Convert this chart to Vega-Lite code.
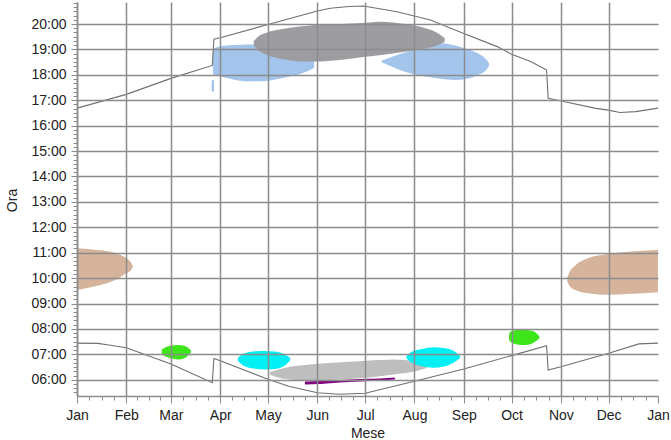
{
  "$schema": "https://vega.github.io/schema/vega-lite/v6.json",
  "width": 581,
  "height": 394,
  "autosize": {"type": "none"},
  "padding": {"left": 77, "top": 2, "right": 13, "bottom": 44},
  "background": "white",
  "config": {"view": {"stroke": null}, "font": "Liberation Sans"},
  "datasets": {
    "riflessi": [
      {"gruppo": "R1", "id": "R1a", "data": "2023-01-01", "sup": 11.17, "inf": 9.53},
      {"gruppo": "R1", "id": "R1a", "data": "2023-01-11", "sup": 11.13, "inf": 9.66},
      {"gruppo": "R1", "id": "R1a", "data": "2023-01-22", "sup": 11.04, "inf": 9.85},
      {"gruppo": "R1", "id": "R1a", "data": "2023-01-28", "sup": 10.92, "inf": 10.02},
      {"gruppo": "R1", "id": "R1a", "data": "2023-01-30", "sup": 10.86, "inf": 10.12},
      {"gruppo": "R1", "id": "R1a", "data": "2023-02-02", "sup": 10.74, "inf": 10.22},
      {"gruppo": "R1", "id": "R1a", "data": "2023-02-04", "sup": 10.6, "inf": 10.32},
      {"gruppo": "R1", "id": "R1a", "data": "2023-02-05", "sup": 10.47, "inf": 10.43},
      {"gruppo": "R1", "id": "R1b", "data": "2023-11-05", "sup": 10.02, "inf": 9.88},
      {"gruppo": "R1", "id": "R1b", "data": "2023-11-06T12:00:00Z", "sup": 10.25, "inf": 9.68},
      {"gruppo": "R1", "id": "R1b", "data": "2023-11-10", "sup": 10.5, "inf": 9.53},
      {"gruppo": "R1", "id": "R1b", "data": "2023-11-18", "sup": 10.78, "inf": 9.4},
      {"gruppo": "R1", "id": "R1b", "data": "2023-12-01", "sup": 10.95, "inf": 9.34},
      {"gruppo": "R1", "id": "R1b", "data": "2023-12-13", "sup": 11.04, "inf": 9.37},
      {"gruppo": "R1", "id": "R1b", "data": "2024-01-01", "sup": 11.11, "inf": 9.44},
      {"gruppo": "R2", "id": "R2a", "data": "2023-03-27T10:00:00Z", "sup": 19.04, "inf": 18.03},
      {"gruppo": "R2", "id": "R2a", "data": "2023-04-01", "sup": 19.12, "inf": 17.93},
      {"gruppo": "R2", "id": "R2a", "data": "2023-04-09", "sup": 19.17, "inf": 17.82},
      {"gruppo": "R2", "id": "R2a", "data": "2023-04-18", "sup": 19.19, "inf": 17.74},
      {"gruppo": "R2", "id": "R2a", "data": "2023-04-30", "sup": 19.19, "inf": 17.76},
      {"gruppo": "R2", "id": "R2a", "data": "2023-05-13", "sup": 19.13, "inf": 17.91},
      {"gruppo": "R2", "id": "R2a", "data": "2023-05-25", "sup": 18.9, "inf": 18.12},
      {"gruppo": "R2", "id": "R2a", "data": "2023-05-30", "sup": 18.56, "inf": 18.28},
      {"gruppo": "R2", "id": "R2c", "data": "2023-03-26T14:00:00Z", "sup": 17.78, "inf": 17.36},
      {"gruppo": "R2", "id": "R2c", "data": "2023-03-27T12:00:00Z", "sup": 17.8, "inf": 17.33},
      {"gruppo": "R2", "id": "R2c", "data": "2023-03-28T02:00:00Z", "sup": 17.78, "inf": 17.36},
      {"gruppo": "R2", "id": "R2b", "data": "2023-07-11T10:00:00Z", "sup": 18.56, "inf": 18.49},
      {"gruppo": "R2", "id": "R2b", "data": "2023-07-18", "sup": 18.71, "inf": 18.32},
      {"gruppo": "R2", "id": "R2b", "data": "2023-07-26", "sup": 18.88, "inf": 18.12},
      {"gruppo": "R2", "id": "R2b", "data": "2023-08-05T12:00:00Z", "sup": 19.06, "inf": 17.95},
      {"gruppo": "R2", "id": "R2b", "data": "2023-08-16", "sup": 19.25, "inf": 17.86},
      {"gruppo": "R2", "id": "R2b", "data": "2023-08-26T12:00:00Z", "sup": 19.15, "inf": 17.8},
      {"gruppo": "R2", "id": "R2b", "data": "2023-09-04", "sup": 19.0, "inf": 17.86},
      {"gruppo": "R2", "id": "R2b", "data": "2023-09-10", "sup": 18.84, "inf": 17.99},
      {"gruppo": "R2", "id": "R2b", "data": "2023-09-15T10:00:00Z", "sup": 18.58, "inf": 18.22},
      {"gruppo": "R2", "id": "R2b", "data": "2023-09-16T19:00:00Z", "sup": 18.46, "inf": 18.35},
      {"gruppo": "R3", "id": "R3", "data": "2023-04-22", "sup": 19.32, "inf": 19.16},
      {"gruppo": "R3", "id": "R3", "data": "2023-04-25", "sup": 19.52, "inf": 18.96},
      {"gruppo": "R3", "id": "R3", "data": "2023-04-30", "sup": 19.66, "inf": 18.79},
      {"gruppo": "R3", "id": "R3", "data": "2023-05-11", "sup": 19.81, "inf": 18.61},
      {"gruppo": "R3", "id": "R3", "data": "2023-05-21", "sup": 19.9, "inf": 18.52},
      {"gruppo": "R3", "id": "R3", "data": "2023-05-31", "sup": 19.96, "inf": 18.52},
      {"gruppo": "R3", "id": "R3", "data": "2023-06-15", "sup": 20.0, "inf": 18.58},
      {"gruppo": "R3", "id": "R3", "data": "2023-07-01", "sup": 20.05, "inf": 18.71},
      {"gruppo": "R3", "id": "R3", "data": "2023-07-11", "sup": 20.09, "inf": 18.78},
      {"gruppo": "R3", "id": "R3", "data": "2023-07-26", "sup": 20.0, "inf": 18.91},
      {"gruppo": "R3", "id": "R3", "data": "2023-08-08", "sup": 19.83, "inf": 19.04},
      {"gruppo": "R3", "id": "R3", "data": "2023-08-16", "sup": 19.63, "inf": 19.17},
      {"gruppo": "R3", "id": "R3", "data": "2023-08-20", "sup": 19.45, "inf": 19.3},
      {"gruppo": "R4", "id": "R4a", "data": "2023-04-12", "sup": 6.86, "inf": 6.75},
      {"gruppo": "R4", "id": "R4a", "data": "2023-04-16", "sup": 7.03, "inf": 6.54},
      {"gruppo": "R4", "id": "R4a", "data": "2023-04-22", "sup": 7.11, "inf": 6.44},
      {"gruppo": "R4", "id": "R4a", "data": "2023-04-29", "sup": 7.13, "inf": 6.4},
      {"gruppo": "R4", "id": "R4a", "data": "2023-05-05", "sup": 7.11, "inf": 6.42},
      {"gruppo": "R4", "id": "R4a", "data": "2023-05-11", "sup": 7.01, "inf": 6.54},
      {"gruppo": "R4", "id": "R4a", "data": "2023-05-15", "sup": 6.86, "inf": 6.77},
      {"gruppo": "R4", "id": "R4b", "data": "2023-07-27", "sup": 6.93, "inf": 6.84},
      {"gruppo": "R4", "id": "R4b", "data": "2023-07-30T12:00:00Z", "sup": 7.11, "inf": 6.66},
      {"gruppo": "R4", "id": "R4b", "data": "2023-08-05T17:00:00Z", "sup": 7.21, "inf": 6.54},
      {"gruppo": "R4", "id": "R4b", "data": "2023-08-12T14:00:00Z", "sup": 7.28, "inf": 6.47},
      {"gruppo": "R4", "id": "R4b", "data": "2023-08-19T14:00:00Z", "sup": 7.25, "inf": 6.52},
      {"gruppo": "R4", "id": "R4b", "data": "2023-08-25T19:00:00Z", "sup": 7.13, "inf": 6.68},
      {"gruppo": "R4", "id": "R4b", "data": "2023-08-29T14:00:00Z", "sup": 6.94, "inf": 6.85},
      {"gruppo": "R5", "id": "R5a", "data": "2023-02-23T05:00:00Z", "sup": 7.19, "inf": 7.01},
      {"gruppo": "R5", "id": "R5a", "data": "2023-02-25T22:00:00Z", "sup": 7.29, "inf": 6.9},
      {"gruppo": "R5", "id": "R5a", "data": "2023-03-01T17:00:00Z", "sup": 7.35, "inf": 6.84},
      {"gruppo": "R5", "id": "R5a", "data": "2023-03-05T12:00:00Z", "sup": 7.37, "inf": 6.8},
      {"gruppo": "R5", "id": "R5a", "data": "2023-03-09T22:00:00Z", "sup": 7.33, "inf": 6.86},
      {"gruppo": "R5", "id": "R5a", "data": "2023-03-13T14:00:00Z", "sup": 7.16, "inf": 7.06},
      {"gruppo": "R5", "id": "R5b", "data": "2023-09-29T10:00:00Z", "sup": 7.75, "inf": 7.6},
      {"gruppo": "R5", "id": "R5b", "data": "2023-09-30", "sup": 7.88, "inf": 7.5},
      {"gruppo": "R5", "id": "R5b", "data": "2023-10-04T10:00:00Z", "sup": 7.96, "inf": 7.39},
      {"gruppo": "R5", "id": "R5b", "data": "2023-10-09T10:00:00Z", "sup": 7.96, "inf": 7.37},
      {"gruppo": "R5", "id": "R5b", "data": "2023-10-14T12:00:00Z", "sup": 7.92, "inf": 7.45},
      {"gruppo": "R5", "id": "R5b", "data": "2023-10-18T10:00:00Z", "sup": 7.71, "inf": 7.62},
      {"gruppo": "R6", "id": "R6", "data": "2023-05-02T05:00:00Z", "sup": 6.3, "inf": 6.2},
      {"gruppo": "R6", "id": "R6", "data": "2023-05-06T12:00:00Z", "sup": 6.38, "inf": 6.1},
      {"gruppo": "R6", "id": "R6", "data": "2023-05-14T19:00:00Z", "sup": 6.51, "inf": 6.01},
      {"gruppo": "R6", "id": "R6", "data": "2023-05-27T10:00:00Z", "sup": 6.6, "inf": 5.95},
      {"gruppo": "R6", "id": "R6", "data": "2023-06-11", "sup": 6.67, "inf": 5.99},
      {"gruppo": "R6", "id": "R6", "data": "2023-07-02", "sup": 6.75, "inf": 6.08},
      {"gruppo": "R6", "id": "R6", "data": "2023-07-18T17:00:00Z", "sup": 6.8, "inf": 6.21},
      {"gruppo": "R6", "id": "R6", "data": "2023-08-02T10:00:00Z", "sup": 6.71, "inf": 6.34},
      {"gruppo": "R6", "id": "R6", "data": "2023-08-08T17:00:00Z", "sup": 6.56, "inf": 6.46},
      {"gruppo": "R7", "id": "R7", "data": "2023-05-24T05:00:00Z", "sup": 5.93, "inf": 5.81},
      {"gruppo": "R7", "id": "R7", "data": "2023-06-02T17:00:00Z", "sup": 5.95, "inf": 5.83},
      {"gruppo": "R7", "id": "R7", "data": "2023-06-15T05:00:00Z", "sup": 5.99, "inf": 5.89},
      {"gruppo": "R7", "id": "R7", "data": "2023-06-27T19:00:00Z", "sup": 6.03, "inf": 5.93},
      {"gruppo": "R7", "id": "R7", "data": "2023-07-10T07:00:00Z", "sup": 6.05, "inf": 5.97},
      {"gruppo": "R7", "id": "R7", "data": "2023-07-19T17:00:00Z", "sup": 6.09, "inf": 6.01}
    ],
    "sole": [
      {"curva": "tramonto", "data": "2023-01-01", "ora": 16.69},
      {"curva": "tramonto", "data": "2023-02-01", "ora": 17.23},
      {"curva": "tramonto", "data": "2023-03-01", "ora": 17.86},
      {"curva": "tramonto", "data": "2023-03-27", "ora": 18.37},
      {"curva": "tramonto", "data": "2023-03-28", "ora": 19.4},
      {"curva": "tramonto", "data": "2023-04-01", "ora": 19.46},
      {"curva": "tramonto", "data": "2023-05-01", "ora": 19.98},
      {"curva": "tramonto", "data": "2023-06-01", "ora": 20.51},
      {"curva": "tramonto", "data": "2023-06-09", "ora": 20.62},
      {"curva": "tramonto", "data": "2023-06-21", "ora": 20.69},
      {"curva": "tramonto", "data": "2023-06-30", "ora": 20.71},
      {"curva": "tramonto", "data": "2023-07-21", "ora": 20.48},
      {"curva": "tramonto", "data": "2023-08-11", "ora": 20.16},
      {"curva": "tramonto", "data": "2023-09-01", "ora": 19.63},
      {"curva": "tramonto", "data": "2023-09-22", "ora": 19.11},
      {"curva": "tramonto", "data": "2023-10-01", "ora": 18.81},
      {"curva": "tramonto", "data": "2023-10-13", "ora": 18.52},
      {"curva": "tramonto", "data": "2023-10-23", "ora": 18.19},
      {"curva": "tramonto", "data": "2023-10-24", "ora": 17.08},
      {"curva": "tramonto", "data": "2023-11-02", "ora": 16.96},
      {"curva": "tramonto", "data": "2023-11-23", "ora": 16.68},
      {"curva": "tramonto", "data": "2023-12-01", "ora": 16.61},
      {"curva": "tramonto", "data": "2023-12-08", "ora": 16.52},
      {"curva": "tramonto", "data": "2023-12-18", "ora": 16.55},
      {"curva": "tramonto", "data": "2024-01-01", "ora": 16.69},
      {"curva": "alba", "data": "2023-01-01", "ora": 7.44},
      {"curva": "alba", "data": "2023-01-14", "ora": 7.43},
      {"curva": "alba", "data": "2023-01-21", "ora": 7.37},
      {"curva": "alba", "data": "2023-02-01", "ora": 7.26},
      {"curva": "alba", "data": "2023-03-01", "ora": 6.62},
      {"curva": "alba", "data": "2023-03-27", "ora": 5.88},
      {"curva": "alba", "data": "2023-03-28", "ora": 6.84},
      {"curva": "alba", "data": "2023-04-01", "ora": 6.75},
      {"curva": "alba", "data": "2023-05-01", "ora": 6.02},
      {"curva": "alba", "data": "2023-05-14", "ora": 5.74},
      {"curva": "alba", "data": "2023-06-01", "ora": 5.49},
      {"curva": "alba", "data": "2023-06-15", "ora": 5.43},
      {"curva": "alba", "data": "2023-07-01", "ora": 5.47},
      {"curva": "alba", "data": "2023-08-01", "ora": 5.94},
      {"curva": "alba", "data": "2023-09-01", "ora": 6.42},
      {"curva": "alba", "data": "2023-10-01", "ora": 6.95},
      {"curva": "alba", "data": "2023-10-23", "ora": 7.34},
      {"curva": "alba", "data": "2023-10-24", "ora": 6.38},
      {"curva": "alba", "data": "2023-11-01", "ora": 6.51},
      {"curva": "alba", "data": "2023-12-01", "ora": 7.04},
      {"curva": "alba", "data": "2023-12-20", "ora": 7.41},
      {"curva": "alba", "data": "2024-01-01", "ora": 7.44}
    ]
  },
  "layer": [
    {
      "data": {"name": "riflessi"},
      "transform": [{"filter": {"field": "gruppo", "oneOf": ["R1", "R2", "R5"]}}],
      "mark": {"type": "area", "interpolate": "monotone", "opacity": 1, "clip": true},
      "encoding": {
        "x": {
          "field": "data", "type": "temporal",
          "scale": {"type": "utc", "nice": false, "domain": [{"year": 2023, "month": 1, "date": 1, "utc": true}, {"year": 2024, "month": 1, "date": 1, "utc": true}]},
          "axis": {
            "title": "Mese",
            "values": {"expr": "[utc(2023,0,1),utc(2023,1,1),utc(2023,2,1),utc(2023,3,1),utc(2023,4,1),utc(2023,5,1),utc(2023,6,1),utc(2023,7,1),utc(2023,8,1),utc(2023,9,1),utc(2023,10,1),utc(2023,11,1),utc(2024,0,1)]"},
            "labelExpr": "utcFormat(datum.value, '%b')",
            "labelFlush": false, "labelOverlap": false, "labelBound": false,
            "grid": true, "gridColor": "#8c8c8c", "gridWidth": 1.5,
            "gridOpacity": {"condition": {"test": "datum.value > utc(2023,11,15)", "value": 0}, "value": 1},
            "domainColor": "#8c8c8c", "domainWidth": 1.5,
            "tickColor": "#8c8c8c", "tickSize": 7, "tickWidth": 1,
            "labelPadding": 5, "labelFont": "Liberation Sans", "labelFontSize": 14, "labelColor": "#222222",
            "titleFont": "Liberation Sans", "titleFontSize": 14, "titleFontWeight": "normal", "titleColor": "#222222",
            "titleY": 41, "titleBaseline": "alphabetic",
            "zindex": 1
          }
        },
        "y": {
          "field": "sup", "type": "quantitative",
          "scale": {"domain": [5.36, 20.866], "nice": false, "zero": false},
          "axis": {
            "title": "Ora",
            "values": [6, 7, 8, 9, 10, 11, 12, 13, 14, 15, 16, 17, 18, 19, 20],
            "labelExpr": "(datum.value < 10 ? '0' : '') + datum.value + ':00'",
            "labelOverlap": false,
            "grid": true, "gridColor": "#8c8c8c", "gridWidth": 1.5,
            "domainColor": "#8c8c8c", "domainWidth": 1.5,
            "tickColor": "#8c8c8c", "tickSize": 6, "tickWidth": 1,
            "labelPadding": 5, "labelFont": "Liberation Sans", "labelFontSize": 14, "labelColor": "#222222",
            "titleFont": "Liberation Sans", "titleFontSize": 14, "titleFontWeight": "normal", "titleColor": "#222222",
            "titleX": -61, "titleY": 198, "titleBaseline": "alphabetic", "titleAlign": "center", "titleAngle": 270,
            "zindex": 1
          }
        },
        "y2": {"field": "inf"},
        "color": {
          "field": "gruppo", "type": "nominal", "legend": null,
          "scale": {"domain": ["R1", "R2", "R3", "R4", "R5", "R6", "R7"], "range": ["#D6B39B", "#A3C5EC", "#9D9CA1", "#00F0F5", "#3CE61B", "#BEBEBE", "#80007F"]}
        },
        "detail": {"field": "id"}
      }
    },
    {
      "data": {"name": "riflessi"},
      "transform": [{"filter": {"field": "gruppo", "oneOf": ["R3", "R6"]}}],
      "mark": {"type": "area", "interpolate": "monotone", "opacity": 1, "clip": true},
      "encoding": {
        "x": {"field": "data", "type": "temporal", "axis": null},
        "y": {"field": "sup", "type": "quantitative", "axis": null},
        "y2": {"field": "inf"},
        "color": {
          "field": "gruppo", "type": "nominal", "legend": null,
          "scale": {"domain": ["R1", "R2", "R3", "R4", "R5", "R6", "R7"], "range": ["#D6B39B", "#A3C5EC", "#9D9CA1", "#00F0F5", "#3CE61B", "#BEBEBE", "#80007F"]}
        },
        "detail": {"field": "id"}
      }
    },
    {
      "data": {"name": "riflessi"},
      "transform": [{"filter": {"field": "gruppo", "oneOf": ["R4", "R7"]}}],
      "mark": {"type": "area", "interpolate": "monotone", "opacity": 1, "clip": true},
      "encoding": {
        "x": {"field": "data", "type": "temporal", "axis": null},
        "y": {"field": "sup", "type": "quantitative", "axis": null},
        "y2": {"field": "inf"},
        "color": {
          "field": "gruppo", "type": "nominal", "legend": null,
          "scale": {"domain": ["R1", "R2", "R3", "R4", "R5", "R6", "R7"], "range": ["#D6B39B", "#A3C5EC", "#9D9CA1", "#00F0F5", "#3CE61B", "#BEBEBE", "#80007F"]}
        },
        "detail": {"field": "id"}
      }
    },
    {
      "data": {"name": "sole"},
      "mark": {"type": "line", "color": "#707070", "strokeWidth": 1.1, "interpolate": "linear", "clip": true},
      "encoding": {
        "x": {
          "field": "data", "type": "temporal",
          "axis": {
            "orient": "bottom", "title": null, "labels": false, "grid": false, "domain": false,
            "values": {"expr": "[utc(2023,0,8,18),utc(2023,0,16,12),utc(2023,0,24,6),utc(2023,1,8),utc(2023,1,15),utc(2023,1,22),utc(2023,2,8,18),utc(2023,2,16,12),utc(2023,2,24,6),utc(2023,3,8,12),utc(2023,3,16),utc(2023,3,23,12),utc(2023,4,8,18),utc(2023,4,16,12),utc(2023,4,24,6),utc(2023,5,8,12),utc(2023,5,16),utc(2023,5,23,12),utc(2023,6,8,18),utc(2023,6,16,12),utc(2023,6,24,6),utc(2023,7,8,18),utc(2023,7,16,12),utc(2023,7,24,6),utc(2023,8,8,12),utc(2023,8,16),utc(2023,8,23,12),utc(2023,9,8,18),utc(2023,9,16,12),utc(2023,9,24,6),utc(2023,10,8,12),utc(2023,10,16),utc(2023,10,23,12),utc(2023,11,8,18),utc(2023,11,16,12),utc(2023,11,24,6)]"},
            "tickColor": "#8c8c8c", "tickSize": 4, "tickWidth": 1, "zindex": 1
          }
        },
        "y": {
          "field": "ora", "type": "quantitative",
          "axis": {
            "orient": "left", "title": null, "labels": false, "grid": false, "domain": false,
            "values": {"expr": "sequence(5.5, 20.87, 1/6)"},
            "tickColor": "#8c8c8c", "tickSize": 4, "tickWidth": 1, "zindex": 1
          }
        },
        "detail": {"field": "curva"}
      }
    }
  ],
  "resolve": {"axis": {"x": "independent", "y": "independent"}}
}
